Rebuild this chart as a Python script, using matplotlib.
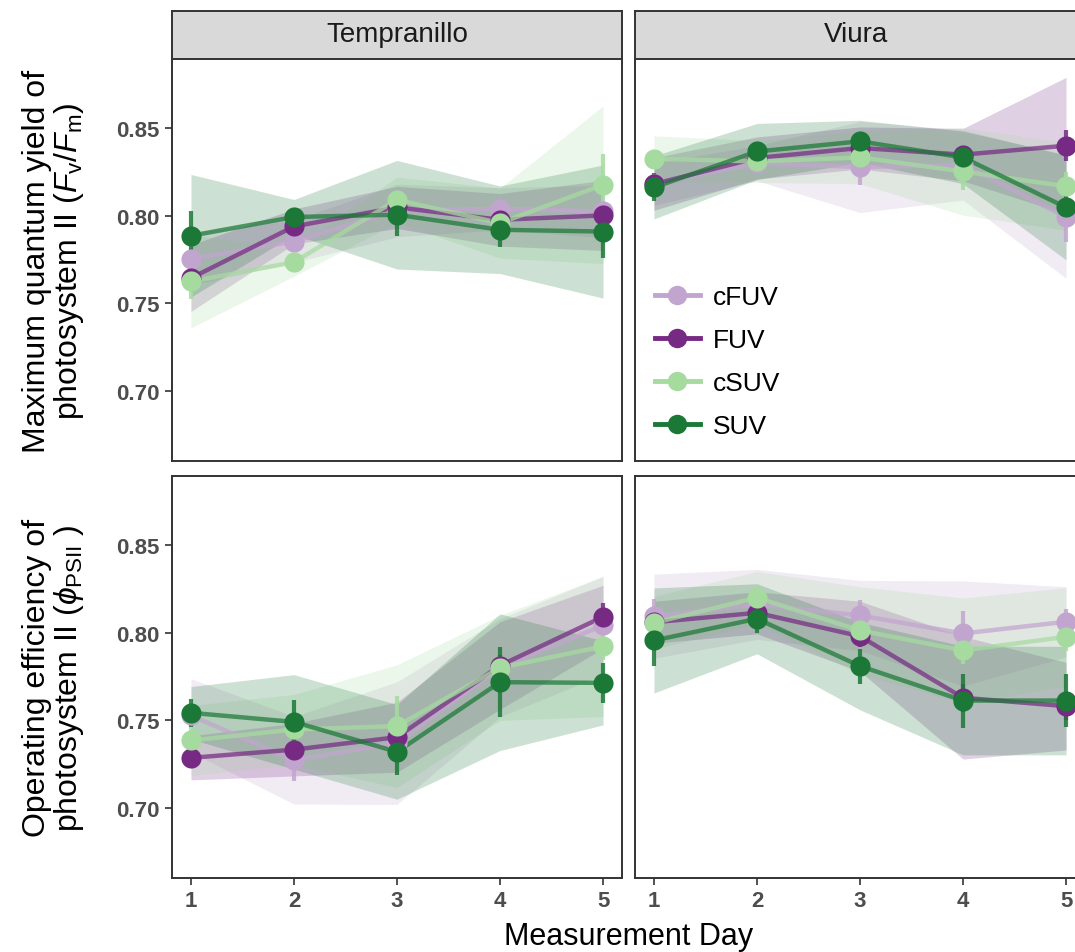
import matplotlib
matplotlib.use("Agg")
import matplotlib.pyplot as plt
from matplotlib.lines import Line2D

plt.rcParams["font.family"] = ["Liberation Sans", "DejaVu Sans"]
plt.rcParams["mathtext.fontset"] = "custom"
plt.rcParams["mathtext.rm"] = "Liberation Sans"
plt.rcParams["mathtext.it"] = "Liberation Sans:italic"

days = [1, 2, 3, 4, 5]
groups = ["cFUV", "FUV", "cSUV", "SUV"]
colors = {"cFUV": "#c2a5cf", "FUV": "#762a83", "cSUV": "#a6dba0", "SUV": "#1b7837"}
cultivars = ["Tempranillo", "Viura"]

# Fv/Fm, Tempranillo
tem_fvfm_mean = {
    "cFUV": [0.7754, 0.7853, 0.803, 0.804, 0.8025],
    "FUV": [0.7644, 0.7939, 0.8048, 0.7977, 0.8002],
    "cSUV": [0.7625, 0.7735, 0.8091, 0.7958, 0.8177],
    "SUV": [0.7886, 0.7993, 0.8006, 0.792, 0.791],
}
tem_fvfm_se = {
    "cFUV": [0.006, 0.006, 0.004, 0.005, 0.006],
    "FUV": [0.006, 0.005, 0.004, 0.004, 0.005],
    "cSUV": [0.010, 0.004, 0.005, 0.005, 0.0175],
    "SUV": [0.014, 0.004, 0.012, 0.010, 0.015],
}
tem_fvfm_band = {
    "cFUV": [0.015, 0.012, 0.015, 0.012, 0.015],
    "FUV": [0.019, 0.010, 0.012, 0.015, 0.020],
    "cSUV": [0.0265, 0.008, 0.013, 0.020, 0.045],
    "SUV": [0.035, 0.010, 0.031, 0.025, 0.038],
}

# Fv/Fm, Viura
viu_fvfm_mean = {
    "cFUV": [0.818, 0.830, 0.8278, 0.829, 0.7993],
    "FUV": [0.8181, 0.833, 0.8387, 0.8349, 0.840],
    "cSUV": [0.8326, 0.831, 0.8333, 0.8253, 0.8168],
    "SUV": [0.8162, 0.8367, 0.8425, 0.8333, 0.8048],
}
viu_fvfm_se = {
    "cFUV": [0.005, 0.005, 0.010, 0.006, 0.0145],
    "FUV": [0.006, 0.004, 0.005, 0.005, 0.009],
    "cSUV": [0.004, 0.004, 0.005, 0.0105, 0.008],
    "SUV": [0.008, 0.005, 0.004, 0.005, 0.008],
}
viu_fvfm_band = {
    "cFUV": [0.012, 0.010, 0.026, 0.020, 0.035],
    "FUV": [0.015, 0.012, 0.012, 0.015, 0.039],
    "cSUV": [0.013, 0.012, 0.015, 0.025, 0.025],
    "SUV": [0.018, 0.016, 0.012, 0.015, 0.030],
}

# PhiPSII, Tempranillo
tem_psii_mean = {
    "cFUV": [0.7528, 0.7272, 0.737, 0.780, 0.8042],
    "FUV": [0.7286, 0.7333, 0.7404, 0.7813, 0.8091],
    "cSUV": [0.7385, 0.7448, 0.7467, 0.780, 0.7922],
    "SUV": [0.7543, 0.7491, 0.732, 0.7718, 0.7714],
}
tem_psii_se = {
    "cFUV": [0.005, 0.012, 0.006, 0.006, 0.006],
    "FUV": [0.004, 0.006, 0.006, 0.006, 0.008],
    "cSUV": [0.008, 0.008, 0.017, 0.007, 0.008],
    "SUV": [0.008, 0.0128, 0.013, 0.020, 0.0114],
}
tem_psii_band = {
    "cFUV": [0.021, 0.025, 0.035, 0.028, 0.028],
    "FUV": [0.0126, 0.015, 0.020, 0.025, 0.018],
    "cSUV": [0.020, 0.020, 0.035, 0.030, 0.040],
    "SUV": [0.015, 0.027, 0.027, 0.039, 0.024],
}

# PhiPSII, Viura
viu_psii_mean = {
    "cFUV": [0.8095, 0.8162, 0.8099, 0.7996, 0.8063],
    "FUV": [0.806, 0.8114, 0.798, 0.7629, 0.7581],
    "cSUV": [0.8057, 0.820, 0.8013, 0.7899, 0.7977],
    "SUV": [0.7956, 0.808, 0.781, 0.7613, 0.7613],
}
viu_psii_se = {
    "cFUV": [0.010, 0.005, 0.009, 0.013, 0.007],
    "FUV": [0.005, 0.006, 0.006, 0.008, 0.008],
    "cSUV": [0.006, 0.007, 0.007, 0.008, 0.008],
    "SUV": [0.0143, 0.008, 0.010, 0.0154, 0.015],
}
viu_psii_band = {
    "cFUV": [0.024, 0.020, 0.020, 0.030, 0.020],
    "FUV": [0.012, 0.012, 0.020, 0.035, 0.025],
    "cSUV": [0.015, 0.015, 0.025, 0.030, 0.028],
    "SUV": [0.030, 0.020, 0.025, 0.031, 0.031],
}

panels = [
    [(tem_fvfm_mean, tem_fvfm_se, tem_fvfm_band), (viu_fvfm_mean, viu_fvfm_se, viu_fvfm_band)],
    [(tem_psii_mean, tem_psii_se, tem_psii_band), (viu_psii_mean, viu_psii_se, viu_psii_band)],
]
ylabels = [
    "Maximum quantum yield of\nphotosystem II ($\\it{F}_\\mathrm{v}/\\it{F}_\\mathrm{m}$)",
    "Operating efficiency of\nphotosystem II ($\\it{\\phi}_\\mathrm{PSII}$ )",
]

W, H = 1075, 953
fig = plt.figure(figsize=(W / 100, H / 100), dpi=100)

lefts = [172, 635]
tops = [60, 477]
pw, ph = 450, 402
border = "#333333"
tickc = "#4d4d4d"

for r in range(2):
    for c in range(2):
        ax = fig.add_axes([lefts[c] / W, 1 - (tops[r] + ph) / H, pw / W, ph / H])
        means, ses, bands = panels[r][c]
        for g in groups:
            m = means[g]
            lo = [a - b for a, b in zip(m, bands[g])]
            hi = [a + b for a, b in zip(m, bands[g])]
            ax.fill_between(days, lo, hi, color=colors[g], alpha=0.22, lw=0, zorder=1)
        for g in groups:
            ax.plot(days, means[g], color=colors[g], lw=3.2, alpha=0.72, zorder=2)
        for g in groups:
            ax.errorbar(days, means[g], yerr=ses[g], fmt="none", ecolor=colors[g],
                        elinewidth=3, capsize=0, alpha=0.85, zorder=3)
        for g in groups:
            ax.plot(days, means[g], "o", color=colors[g], ms=14.5, mew=0, zorder=4)

        ax.set_xlim(0.816, 5.184)
        ax.set_ylim(0.66, 0.8895)
        ax.set_xticks(days)
        ax.set_yticks([0.70, 0.75, 0.80, 0.85])
        for s in ax.spines.values():
            s.set_color(border)
            s.set_linewidth(1.4)
        ax.tick_params(direction="out", length=5, width=1.2, color=border,
                       labelcolor=tickc, labelsize=16, pad=4)
        for lab in ax.get_xticklabels() + ax.get_yticklabels():
            lab.set_fontweight("bold")
        ax.yaxis.set_major_formatter(plt.FormatStrFormatter("%.2f"))
        if r == 0:
            ax.tick_params(axis="x", labelbottom=False, length=0)
        if c == 1:
            ax.tick_params(axis="y", labelleft=False, length=0)

        if r == 0:
            sx = fig.add_axes([lefts[c] / W, 1 - 59 / H, pw / W, 47 / H])
            sx.set_xticks([])
            sx.set_yticks([])
            sx.set_facecolor("#d9d9d9")
            for s in sx.spines.values():
                s.set_color(border)
                s.set_linewidth(1.4)
            sx.spines["bottom"].set_visible(False)
            sx.text(0.5 if c == 0 else 0.49, 0.5, cultivars[c], ha="center", va="center",
                    fontsize=20, color="#1a1a1a", transform=sx.transAxes)

        if r == 0 and c == 1:
            handles = [Line2D([0], [0], color=colors[g], lw=3.5, marker="o", ms=14, mew=0)
                       for g in groups]
            ax.legend(handles, groups, loc="center left", bbox_to_anchor=(0.044, 0.2475),
                      frameon=False, fontsize=19, handlelength=1.7, labelspacing=0.72,
                      handletextpad=0.5, borderaxespad=0, borderpad=0)

for r in range(2):
    yc = 1 - (tops[r] + ph / 2) / H
    fig.text(54 / W, yc, ylabels[r], rotation=90, ha="center", va="center",
             fontsize=23, linespacing=1.0, multialignment="center")

fig.text((172 + 1085) / 2 / W, 1 - 922 / H, "Measurement Day", ha="center", va="top", fontsize=22)

fig.savefig("out.png", dpi=100)
